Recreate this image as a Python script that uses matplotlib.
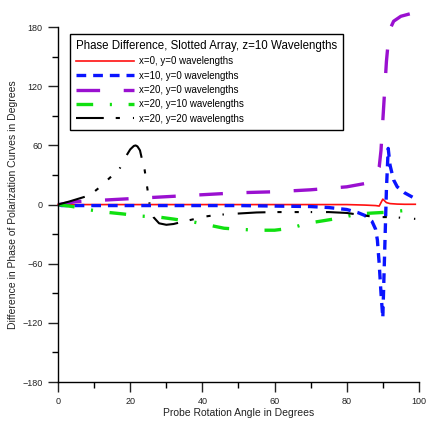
import matplotlib
matplotlib.use("Agg")
import matplotlib.pyplot as plt
from matplotlib.ticker import MultipleLocator

plt.rcParams['font.family'] = ['Liberation Sans', 'DejaVu Sans']
plt.rcParams['lines.scale_dashes'] = False

# x=0, y=0 wavelengths
red_x = [0, 10, 20, 30, 40, 50, 60, 70, 80, 85, 88, 89, 90, 91, 92, 94, 96, 99]
red_y = [0, 0, 0, 0, 0, 0, 0, 0, 0, -0.5, -1, -1.5, 5.5, 2, 1, 0.5, 0.3, 0.3]

# x=10, y=0 wavelengths
blue_x = [0, 1, 10, 20, 30, 40, 50, 60, 70, 75, 80, 83, 85, 87, 88, 88.5, 89, 89.5,
          90, 90.5, 91, 91.5, 92, 93, 94, 96, 98, 99]
blue_y = [0, -1, -1, -1, -1, -1, -1, -1.5, -2, -3, -5, -8, -11, -17, -25, -36, -60, -90,
          -115, -50, 15, 57, 40, 25, 18, 12, 8, 6]

# x=20, y=0 wavelengths
purple_x = [0, 5, 10, 20, 30, 40, 50, 60, 70, 80, 86, 88, 89, 89.5, 90, 90.5, 91, 91.5,
            92, 93, 95, 98]
purple_y = [0, 3, 4, 6, 8, 10, 12, 13, 15, 18, 22, 30, 38, 55, 85, 115, 145, 165,
            178, 186, 191, 194]

# x=20, y=10 wavelengths
green_x = [0, 4, 9, 14, 18, 23, 28, 32, 38, 42, 46, 50, 55, 60, 64.5, 69, 73, 78, 83,
           87, 92, 97, 99]
green_y = [0, -2, -5.5, -8, -9.5, -11.7, -12.7, -14.7, -18, -21, -24, -25, -26, -26,
           -24, -19, -16.7, -13.7, -9.6, -8.6, -7.6, -5.6, -4.6]

# x=20, y=20 wavelengths
black_x = [0, 3, 7.5, 10, 12, 14, 17, 19, 20, 21, 21.5, 22, 22.7, 23.5, 24, 25, 25.5,
           26.5, 28, 30, 32, 35, 38, 41, 44, 48, 55, 60, 65, 70, 75, 80, 84, 88, 93,
           96, 99]
black_y = [0, 3, 8, 13, 19, 26, 36, 50, 56, 59.5, 60, 59, 55, 42, 35, 10, -3,
           -13, -19, -20.5, -19.7, -17, -14.5, -12, -10.5, -9.5, -8, -7.6, -7.6, -7.6,
           -7.6, -8.5, -10.6, -12.7, -12.7, -13.7, -14.5]

labels = ["x=0, y=0 wavelengths", "x=10, y=0 wavelengths", "x=20, y=0 wavelengths",
          "x=20, y=10 wavelengths", "x=20, y=20 wavelengths"]

fig = plt.figure(figsize=(4.27, 4.24), dpi=100)
ax = fig.add_axes([0.136, 0.099, 0.845, 0.837])

ax.plot(red_x, red_y, color="#ff1010", lw=1.2, label=labels[0], clip_on=False)
ax.plot(blue_x, blue_y, color="#0a14ff", lw=2.4, dashes=(7, 5),
        label=labels[1], clip_on=False)
ax.plot(purple_x, purple_y, color="#9a10d0", lw=2.4, dashes=(17, 17),
        label=labels[2], clip_on=False)
ax.plot(green_x, green_y, color="#10e010", lw=2.4, dashes=(12, 12, 1.5, 12),
        label=labels[3], clip_on=False)
ax.plot(black_x, black_y, color="black", lw=1.5,
        dashes=(20, 8.6, 3, 9.4, 3, 8.6, 1, 10),
        label=labels[4], clip_on=False)

ax.set_xlim(0, 100)
ax.set_ylim(-180, 180)
ax.xaxis.set_major_locator(MultipleLocator(20))
ax.xaxis.set_minor_locator(MultipleLocator(10))
ax.yaxis.set_major_locator(MultipleLocator(60))
ax.yaxis.set_minor_locator(MultipleLocator(30))
ax.tick_params(which="major", length=7.5, width=1, labelsize=6.5, colors="#222222")
ax.tick_params(which="minor", length=4, width=1)
ax.spines["top"].set_visible(False)
ax.spines["right"].set_visible(False)
ax.spines["left"].set_linewidth(1)
ax.spines["bottom"].set_linewidth(1)

ax.set_xlabel("Probe Rotation Angle in Degrees", fontsize=7.5, color="#222222", labelpad=1)
ax.set_ylabel("Difference in Phase of Polarization Curves in Degrees", fontsize=7.5,
              color="#222222", labelpad=3)

leg = ax.legend(loc="upper left", bbox_to_anchor=(70 / 427, 1 - 34 / 424),
                bbox_transform=fig.transFigure, borderaxespad=0, fontsize=7,
                title="Phase Difference, Slotted Array, z=10 Wavelengths",
                title_fontsize=8.3, handlelength=6, labelspacing=0.45,
                fancybox=False, framealpha=1, edgecolor="black",
                borderpad=0.6, handletextpad=0.5)
leg._legend_box.align = "left"
leg.get_frame().set_linewidth(1)

fig.savefig("out.png", dpi=100)
